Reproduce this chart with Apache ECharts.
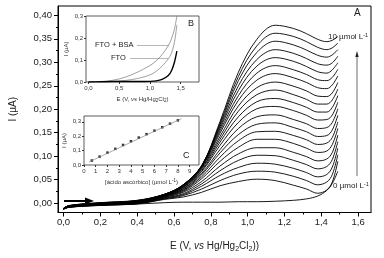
<!DOCTYPE html>
<html>
<head>
<meta charset="utf-8">
<script src="https://cdn.jsdelivr.net/npm/echarts@6/dist/echarts.min.js"></script>
<style>
  html, body { margin: 0; padding: 0; background: #fff; }
  #chart { width: 384px; height: 258px; }
</style>
</head>
<body>
<div id="chart"></div>
<script>
// main panel: linear sweeps, 0 -> 10 umol/L ascorbic acid (step 0.5)
const potential = [0.00, 0.03, 0.20, 0.40, 0.55, 0.65, 0.75, 0.85, 0.95, 1.05, 1.15, 1.25, 1.32, 1.38, 1.43, 1.46, 1.49]

const c0 = [-0.013, -0.009, -0.005, -0.002, 0.001, 0.002, 0.002, 0.002, 0.003, 0.003, 0.004, 0.006, 0.009, 0.015, 0.027, 0.042, 0.068]
const c1 = [-0.0129, -0.0088, -0.0047, -0.0016, 0.008, 0.013, 0.023, 0.037, 0.046, 0.051, 0.048, 0.038, 0.030, 0.021, 0.028, 0.045, 0.089]
const c2 = [-0.0128, -0.0086, -0.0044, -0.0012, 0.009, 0.016, 0.030, 0.048, 0.062, 0.068, 0.066, 0.057, 0.048, 0.039, 0.045, 0.061, 0.103]
const c3 = [-0.0127, -0.0084, -0.0041, -0.0008, 0.010, 0.018, 0.036, 0.059, 0.076, 0.085, 0.083, 0.074, 0.065, 0.056, 0.061, 0.077, 0.117]
const c4 = [-0.0126, -0.0082, -0.0038, -0.0004, 0.011, 0.020, 0.041, 0.069, 0.091, 0.102, 0.101, 0.091, 0.082, 0.073, 0.078, 0.093, 0.131]
const c5 = [-0.0125, -0.0080, -0.0035, 0.0000, 0.012, 0.023, 0.046, 0.079, 0.105, 0.118, 0.118, 0.108, 0.099, 0.090, 0.094, 0.108, 0.145]
const c6 = [-0.0124, -0.0078, -0.0032, 0.0004, 0.013, 0.025, 0.052, 0.089, 0.119, 0.136, 0.136, 0.127, 0.117, 0.108, 0.111, 0.125, 0.159]
const c7 = [-0.0123, -0.0076, -0.0029, 0.0008, 0.014, 0.027, 0.056, 0.098, 0.133, 0.152, 0.153, 0.144, 0.135, 0.125, 0.128, 0.140, 0.173]
const c8 = [-0.0122, -0.0074, -0.0026, 0.0012, 0.015, 0.028, 0.060, 0.107, 0.146, 0.168, 0.171, 0.161, 0.152, 0.142, 0.144, 0.156, 0.187]
const c9 = [-0.0121, -0.0072, -0.0023, 0.0016, 0.015, 0.030, 0.063, 0.114, 0.159, 0.184, 0.188, 0.178, 0.169, 0.159, 0.161, 0.172, 0.201]
const c10 = [-0.0120, -0.0070, -0.0020, 0.0020, 0.016, 0.031, 0.067, 0.123, 0.172, 0.201, 0.206, 0.197, 0.187, 0.177, 0.178, 0.188, 0.215]
const c11 = [-0.0119, -0.0068, -0.0017, 0.0024, 0.016, 0.033, 0.069, 0.130, 0.184, 0.216, 0.223, 0.214, 0.204, 0.194, 0.194, 0.204, 0.229]
const c12 = [-0.0118, -0.0066, -0.0014, 0.0028, 0.017, 0.034, 0.072, 0.136, 0.196, 0.231, 0.241, 0.231, 0.221, 0.211, 0.211, 0.220, 0.243]
const c13 = [-0.0117, -0.0064, -0.0011, 0.0032, 0.017, 0.035, 0.074, 0.142, 0.207, 0.246, 0.258, 0.249, 0.239, 0.228, 0.227, 0.235, 0.257]
const c14 = [-0.0116, -0.0062, -0.0008, 0.0036, 0.018, 0.036, 0.076, 0.149, 0.219, 0.262, 0.276, 0.267, 0.257, 0.246, 0.244, 0.252, 0.271]
const c15 = [-0.0115, -0.0060, -0.0005, 0.0040, 0.018, 0.037, 0.077, 0.154, 0.229, 0.277, 0.293, 0.284, 0.274, 0.263, 0.261, 0.268, 0.285]
const c16 = [-0.0114, -0.0058, -0.0002, 0.0044, 0.018, 0.038, 0.078, 0.159, 0.240, 0.292, 0.310, 0.302, 0.291, 0.280, 0.277, 0.284, 0.299]
const c17 = [-0.0113, -0.0056, 0.0001, 0.0048, 0.019, 0.038, 0.079, 0.163, 0.250, 0.306, 0.327, 0.319, 0.308, 0.297, 0.294, 0.299, 0.313]
const c18 = [-0.0112, -0.0054, 0.0004, 0.0052, 0.019, 0.039, 0.080, 0.167, 0.261, 0.321, 0.345, 0.337, 0.326, 0.315, 0.311, 0.316, 0.327]
const c19 = [-0.0111, -0.0052, 0.0007, 0.0056, 0.019, 0.039, 0.079, 0.170, 0.270, 0.335, 0.362, 0.355, 0.344, 0.332, 0.327, 0.331, 0.341]
const c20 = [-0.0110, -0.0050, 0.0010, 0.0060, 0.019, 0.039, 0.079, 0.174, 0.279, 0.349, 0.379, 0.372, 0.361, 0.349, 0.344, 0.347, 0.355]
const sweeps = [c0, c1, c2, c3, c4, c5, c6, c7, c8, c9, c10, c11, c12, c13, c14, c15, c16, c17, c18, c19, c20]

// inset B: electrode blanks
const potentialB = [0.0, 0.2, 0.4, 0.6, 0.8, 1.0, 1.1, 1.2, 1.3, 1.35, 1.4, 1.44]
const ftoBsa = [0, 0.002, 0.008, 0.022, 0.045, 0.075, 0.095, 0.125, 0.165, 0.195, 0.240, 0.300]
const ftoOnly = [0, 0.001, 0.003, 0.007, 0.016, 0.032, 0.048, 0.072, 0.105, 0.130, 0.180, 0.260]
const bareLine = [0, 0.001, 0.002, 0.002, 0.002, 0.003, 0.005, 0.012, 0.030, 0.050, 0.090, 0.140]

// inset C: calibration
const concC = [0.67, 1.33, 2.0, 2.67, 3.33, 4.0, 4.67, 5.33, 6.0, 6.67, 7.33, 8.0]
const peakC = [0.031, 0.058, 0.086, 0.112, 0.139, 0.165, 0.190, 0.214, 0.238, 0.262, 0.287, 0.310]
const fitC = [[0.45, 0.022], [8.3, 0.322]]

const mainYLabels = [0, 0.05, 0.10, 0.15, 0.20, 0.25, 0.30, 0.35, 0.40]
const mainYMinor = [0.025, 0.075, 0.125, 0.175, 0.225, 0.275, 0.325, 0.375]
const mainXLabels = [0, 0.2, 0.4, 0.6, 0.8, 1.0, 1.2, 1.4, 1.6]
const mainXMinor = [0.1, 0.3, 0.5, 0.7, 0.9, 1.1, 1.3, 1.5]

const FONT = 'Liberation Sans'
const comma = (d) => (v) => v.toFixed(d).replace('.', ',')

const chart = echarts.init(document.getElementById('chart'))

const hiddenLine = { show: false, onZero: false }

function valAxis (opts) {
  return Object.assign({
    type: 'value',
    splitLine: { show: false },
    axisLine: { show: true, onZero: false, lineStyle: { color: '#000', width: 1 } }
  }, opts)
}

const insetLabel = { fontFamily: FONT, fontSize: 6, color: '#333', margin: 3 }

const mainSeries = sweeps.map((vals) => ({
  type: 'line',
  xAxisIndex: 0,
  yAxisIndex: 0,
  data: potential.map((e, j) => [e, vals[j]]),
  showSymbol: false,
  smooth: 0.35,
  silent: true,
  lineStyle: { color: '#000', width: 0.9 },
  z: 2
}))

chart.setOption({
  animation: false,
  grid: [
    { left: 58, top: 6, width: 313, height: 214, show: true, borderColor: '#000', borderWidth: 1 },
    { left: 86, top: 16, width: 113, height: 66, show: true, borderColor: '#333', borderWidth: 0.8 },
    { left: 84, top: 116, width: 115, height: 49, show: true, borderColor: '#333', borderWidth: 0.8 }
  ],
  xAxis: [
    valAxis({
      gridIndex: 0, position: 'bottom', min: -0.03, max: 1.67,
      axisTick: { customValues: mainXLabels, length: 4, lineStyle: { color: '#000' } },
      axisLabel: { customValues: mainXLabels, formatter: comma(1), fontFamily: FONT, fontSize: 9.5, color: '#222', margin: 5 },
      name: '{n|E (V, }{i|vs}{n| Hg/Hg}{s|2}{n|Cl}{s|2}{n|))}',
      nameLocation: 'middle', nameGap: 27,
      nameTextStyle: {
        rich: {
          n: { fontFamily: FONT, fontSize: 10, color: '#222', lineHeight: 14 },
          i: { fontFamily: FONT, fontSize: 10, color: '#222', fontStyle: 'italic', lineHeight: 14 },
          s: { fontFamily: FONT, fontSize: 7, color: '#222', lineHeight: 14, padding: [6, 0, 0, 0] }
        }
      }
    }),
    valAxis({
      gridIndex: 0, position: 'bottom', min: -0.03, max: 1.67,
      axisLine: hiddenLine,
      axisTick: { customValues: mainXMinor, length: 2, lineStyle: { color: '#000' } },
      axisLabel: { show: false }
    }),
    valAxis({
      gridIndex: 1, position: 'bottom', min: -0.04, max: 1.8,
      axisLine: hiddenLine,
      axisTick: { customValues: [0, 0.5, 1.0, 1.5], length: 2, lineStyle: { color: '#333' } },
      axisLabel: Object.assign({ customValues: [0, 0.5, 1.0, 1.5], formatter: comma(1) }, insetLabel),
      name: '{n|E (V, }{i|vs}{n| Hg/Hg}{s|2}{n|Cl}{s|2}{n|)}',
      nameLocation: 'middle', nameGap: 13,
      nameTextStyle: {
        rich: {
          n: { fontFamily: FONT, fontSize: 6, color: '#333', lineHeight: 9 },
          i: { fontFamily: FONT, fontSize: 6, color: '#333', fontStyle: 'italic', lineHeight: 9 },
          s: { fontFamily: FONT, fontSize: 4.5, color: '#333', lineHeight: 9, padding: [3, 0, 0, 0] }
        }
      }
    }),
    valAxis({
      gridIndex: 2, position: 'bottom', min: 0, max: 9.8,
      axisLine: hiddenLine,
      axisTick: { customValues: [0, 1, 2, 3, 4, 5, 6, 7, 8, 9], length: 2, lineStyle: { color: '#333' } },
      axisLabel: Object.assign({ customValues: [0, 1, 2, 3, 4, 5, 6, 7, 8, 9] }, insetLabel),
      name: '{n|[ácido ascórbico] (µmol L}{p|-1}{n|)}',
      nameLocation: 'middle', nameGap: 13,
      nameTextStyle: {
        rich: {
          n: { fontFamily: FONT, fontSize: 6, color: '#333', lineHeight: 9 },
          p: { fontFamily: FONT, fontSize: 4.5, color: '#333', lineHeight: 9, padding: [0, 0, 3, 0] }
        }
      }
    })
  ],
  yAxis: [
    valAxis({
      gridIndex: 0, position: 'left', min: -0.02, max: 0.42,
      axisTick: { customValues: mainYLabels, length: 4, lineStyle: { color: '#000' } },
      axisLabel: { customValues: mainYLabels, formatter: comma(2), fontFamily: FONT, fontSize: 9.5, color: '#222', margin: 6 },
      name: 'I (µA)', nameLocation: 'middle', nameGap: 40,
      nameTextStyle: { fontFamily: FONT, fontSize: 10, color: '#222' }
    }),
    valAxis({
      gridIndex: 0, position: 'left', min: -0.02, max: 0.42,
      axisLine: hiddenLine,
      axisTick: { customValues: mainYMinor, length: 2, lineStyle: { color: '#000' } },
      axisLabel: { show: false }
    }),
    valAxis({
      gridIndex: 1, position: 'left', min: 0, max: 0.3,
      axisLine: hiddenLine,
      axisTick: { customValues: [0, 0.1, 0.2, 0.3], length: 2, lineStyle: { color: '#333' } },
      axisLabel: Object.assign({ customValues: [0, 0.1, 0.2, 0.3], formatter: comma(1) }, insetLabel),
      name: 'I (µA)', nameLocation: 'middle', nameGap: 17,
      nameTextStyle: { fontFamily: FONT, fontSize: 6, color: '#333' }
    }),
    valAxis({
      gridIndex: 2, position: 'left', min: 0, max: 0.34,
      axisLine: hiddenLine,
      axisTick: { customValues: [0, 0.1, 0.2, 0.3], length: 2, lineStyle: { color: '#333' } },
      axisLabel: Object.assign({ customValues: [0, 0.1, 0.2, 0.3], formatter: comma(1) }, insetLabel),
      name: 'I (µA)', nameLocation: 'middle', nameGap: 17,
      nameTextStyle: { fontFamily: FONT, fontSize: 6, color: '#333' }
    })
  ],
  series: mainSeries.concat([
    {
      type: 'line', xAxisIndex: 2, yAxisIndex: 2, showSymbol: false, smooth: 0.3, silent: true,
      data: potentialB.map((e, j) => [e, ftoBsa[j]]),
      lineStyle: { color: '#777', width: 0.7 }
    },
    {
      type: 'line', xAxisIndex: 2, yAxisIndex: 2, showSymbol: false, smooth: 0.3, silent: true,
      data: potentialB.map((e, j) => [e, ftoOnly[j]]),
      lineStyle: { color: '#777', width: 0.7 }
    },
    {
      type: 'line', xAxisIndex: 2, yAxisIndex: 2, showSymbol: false, smooth: 0.3, silent: true,
      data: potentialB.map((e, j) => [e, bareLine[j]]),
      lineStyle: { color: '#000', width: 1.4 }
    },
    {
      type: 'line', xAxisIndex: 3, yAxisIndex: 3, showSymbol: false, silent: true,
      data: fitC,
      lineStyle: { color: '#888', width: 0.7 }
    },
    {
      type: 'scatter', xAxisIndex: 3, yAxisIndex: 3, silent: true,
      data: concC.map((c, j) => [c, peakC[j]]),
      symbol: 'rect', symbolSize: 2.5,
      itemStyle: { color: '#000' }
    }
  ]),
  graphic: [
    { type: 'text', left: 354, top: 8, style: { text: 'A', font: '10px ' + FONT, fill: '#222' } },
    { type: 'text', left: 188, top: 19, style: { text: 'B', font: '9px ' + FONT, fill: '#222' } },
    { type: 'text', left: 183, top: 151, style: { text: 'C', font: '9px ' + FONT, fill: '#222' } },
    {
      type: 'text', left: 328, top: 32,
      style: {
        text: '{n|10 µmol L}{p|-1}',
        rich: { n: { font: '8px ' + FONT, fill: '#222', lineHeight: 10 }, p: { font: '5.5px ' + FONT, fill: '#222', lineHeight: 10, padding: [0, 0, 4, 0] } }
      }
    },
    {
      type: 'text', left: 333, top: 181,
      style: {
        text: '{n|0 µmol L}{p|-1}',
        rich: { n: { font: '8px ' + FONT, fill: '#222', lineHeight: 10 }, p: { font: '5.5px ' + FONT, fill: '#222', lineHeight: 10, padding: [0, 0, 4, 0] } }
      }
    },
    { type: 'line', shape: { x1: 357, y1: 176, x2: 357, y2: 56 }, style: { stroke: '#444', lineWidth: 0.8 } },
    { type: 'polygon', shape: { points: [[357, 51], [355.3, 57], [358.7, 57]] }, style: { fill: '#222' } },
    { type: 'line', shape: { x1: 64, y1: 201, x2: 86, y2: 201 }, style: { stroke: '#000', lineWidth: 2 } },
    { type: 'polygon', shape: { points: [[94, 201], [85, 197.5], [85, 204.5]] }, style: { fill: '#000' } },
    { type: 'text', left: 95, top: 41, style: { text: 'FTO + BSA', font: '7.5px ' + FONT, fill: '#222' } },
    { type: 'line', shape: { x1: 137, y1: 45.5, x2: 169, y2: 45.5 }, style: { stroke: '#888', lineWidth: 0.6 } },
    { type: 'text', left: 111, top: 54, style: { text: 'FTO', font: '7.5px ' + FONT, fill: '#222' } },
    { type: 'line', shape: { x1: 130, y1: 58.5, x2: 168, y2: 58.5 }, style: { stroke: '#888', lineWidth: 0.6 } }
  ]
})
</script>
</body>
</html>
